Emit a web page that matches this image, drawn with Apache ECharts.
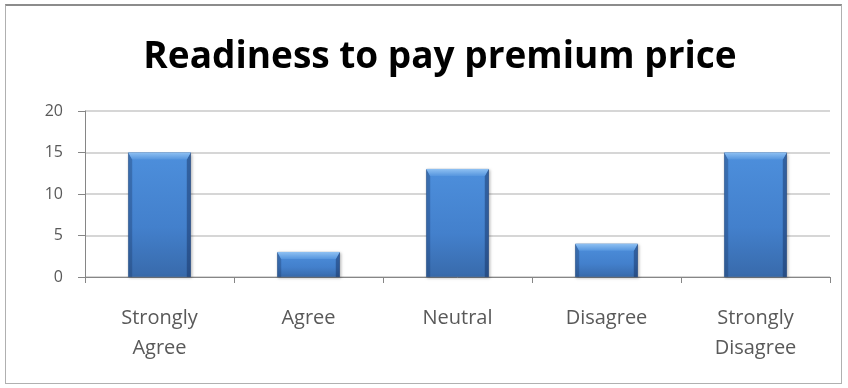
<!DOCTYPE html>
<html>
<head>
<meta charset="utf-8">
<script src="https://cdn.jsdelivr.net/npm/echarts@6/dist/echarts.min.js"></script>
<style>
  html, body { margin: 0; padding: 0; background: #fff; }
  #frame { position: absolute; left: 5px; top: 4px; width: 837px; height: 380px; border: 1px solid #b0b0b0; border-top: 2px solid #8c8c8c; box-sizing: border-box; }
  #chart { position: absolute; left: 0; top: 0; width: 848px; height: 388px; }
</style>
</head>
<body>
<div id="frame"></div>
<div id="chart"></div>
<script>
const titleText = 'Readiness to pay premium price';
const categories = ['Strongly\nAgree', 'Agree', 'Neutral', 'Disagree', 'Strongly\nDisagree'];
const values = [15, 3, 13, 4, 15];
const yTicks = { min: 0, max: 20, interval: 5 };

const BAR_RATIO = 0.42;

const chart = echarts.init(document.getElementById('chart'), null, { renderer: 'canvas' });

// body of each bar: lighter at the top, deeper blue toward the base
const barFill = new echarts.graphic.LinearGradient(0, 0, 0, 1, [
  { offset: 0, color: '#4d8fdc' },
  { offset: 0.6, color: '#4380cc' },
  { offset: 1, color: '#386aab' }
]);

// bevel overlay: light chamfer on top, darker strips on the sides
function renderBevel(params, api) {
  const idx = api.value(0);
  const val = api.value(1);
  const top = api.coord([idx, val]);
  const base = api.coord([idx, 0]);
  const band = api.size([1, 0])[0];
  const w = band * BAR_RATIO;
  const x0 = top[0] - w / 2;
  const x1 = top[0] + w / 2;
  const y0 = top[1];
  const y1 = base[1];
  const bev = Math.min(7, (y1 - y0) / 2);
  const side = 4;
  return {
    type: 'group',
    children: [
      {
        type: 'polygon',
        shape: { points: [[x0, y0], [x0 + side, y0 + bev], [x0 + side, y1], [x0, y1]] },
        style: { fill: 'rgba(30,60,110,0.35)' }
      },
      {
        type: 'polygon',
        shape: { points: [[x1, y0], [x1 - side, y0 + bev], [x1 - side, y1], [x1, y1]] },
        style: { fill: 'rgba(20,45,90,0.45)' }
      },
      {
        type: 'polygon',
        shape: { points: [[x0, y0], [x1, y0], [x1 - side, y0 + bev], [x0 + side, y0 + bev]] },
        style: {
          fill: new echarts.graphic.LinearGradient(0, 0, 0, 1, [
            { offset: 0, color: '#8ec0f2' },
            { offset: 1, color: '#5595de' }
          ])
        }
      }
    ]
  };
}

chart.setOption({
  animation: false,
  title: {
    text: titleText,
    left: 435,
    textAlign: 'center',
    top: 34,
    textStyle: { fontFamily: 'Open Sans', fontWeight: 'bold', fontSize: 37, color: '#000' }
  },
  grid: { left: 85, right: 18, top: 111, bottom: 111, containLabel: false },
  xAxis: {
    type: 'category',
    data: categories,
    axisLine: { lineStyle: { color: '#868686', width: 1 } },
    axisTick: { show: true, length: 6, lineStyle: { color: '#868686' } },
    axisLabel: { color: '#595959', fontFamily: 'Open Sans', fontSize: 20, margin: 26, lineHeight: 30 }
  },
  yAxis: {
    type: 'value',
    min: yTicks.min, max: yTicks.max, interval: yTicks.interval,
    axisLine: { show: true, lineStyle: { color: '#868686' } },
    axisTick: { show: true, length: 7, lineStyle: { color: '#868686' } },
    axisLabel: { color: '#595959', fontFamily: 'Open Sans', fontSize: 16, margin: 22 },
    splitLine: { lineStyle: { color: '#c8c8c8', width: 1.5 } }
  },
  series: [
    {
      type: 'bar',
      data: values,
      barWidth: (BAR_RATIO * 100) + '%',
      itemStyle: {
        color: barFill,
        borderColor: '#2e5b94',
        borderWidth: 0.5,
        shadowColor: 'rgba(0,0,0,0.25)',
        shadowBlur: 3,
        shadowOffsetX: 1,
        shadowOffsetY: 1
      }
    },
    {
      type: 'custom',
      data: values.map((v, i) => [i, v]),
      renderItem: renderBevel,
      silent: true,
      z: 3
    }
  ]
});
</script>
</body>
</html>
